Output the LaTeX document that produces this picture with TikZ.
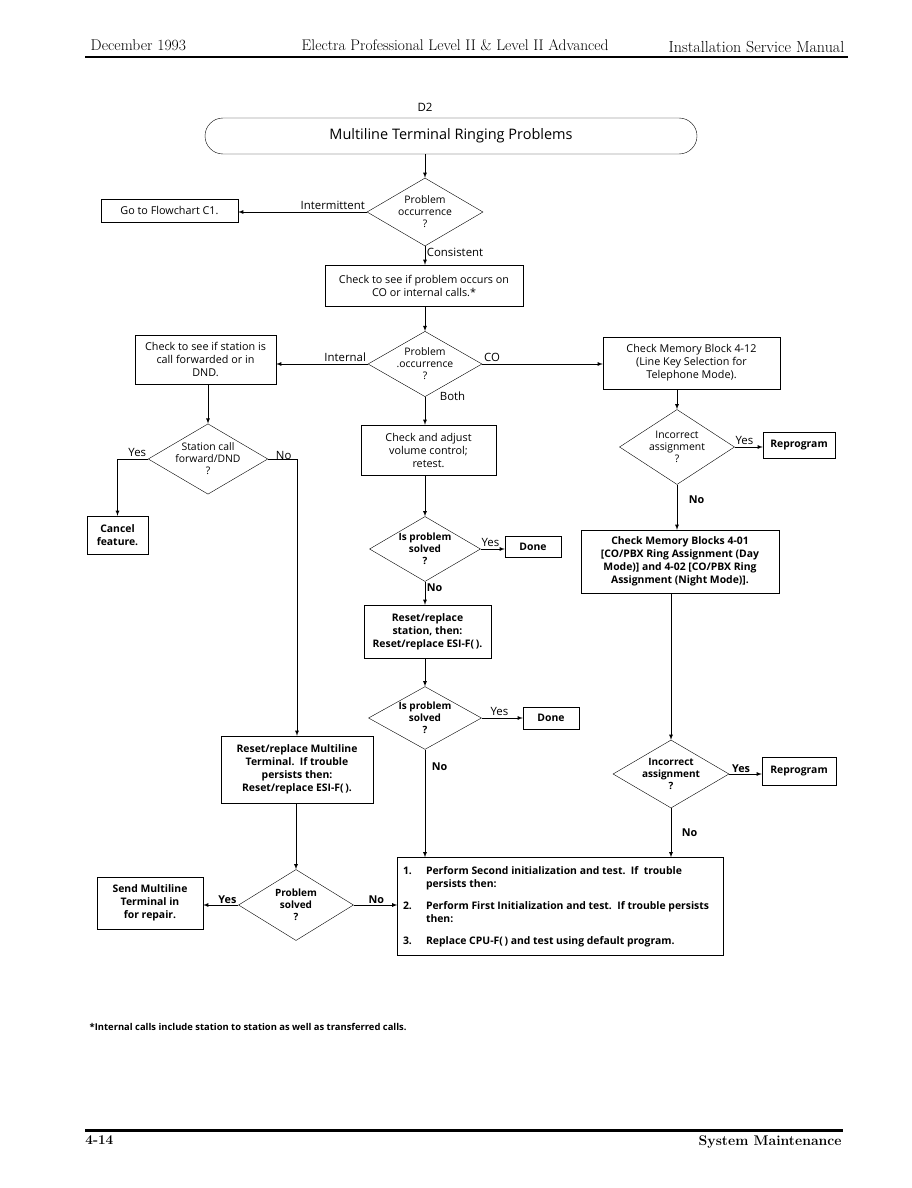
\documentclass[tikz,border=0pt]{standalone}
\usepackage{fontspec}
\setsansfont{Open Sans}
\usepackage{tikz}
\usetikzlibrary{shapes,arrows,positioning,calc}
\tikzset{
  basic/.style    = {draw, thin, font=\sffamily\fontsize{10.8}{13}\selectfont, align=center, inner sep=2pt},
  box/.style      = {basic, rectangle},
  bbox/.style     = {box, font=\sffamily\bfseries\fontsize{10.4}{13}\selectfont},
  decision/.style = {basic, diamond, aspect=1.7, inner sep=0pt, font=\sffamily\fontsize{10.4}{12}\selectfont},
  bdecision/.style= {decision, font=\sffamily\bfseries\fontsize{10}{12}\selectfont},
  term/.style     = {basic, rectangle, rounded corners=18pt, font=\sffamily\fontsize{14.5}{16}\selectfont},
  lbl/.style      = {font=\sffamily\fontsize{11.4}{12}\selectfont, inner sep=1.5pt},
  blbl/.style     = {lbl, font=\sffamily\bfseries\fontsize{10.8}{12}\selectfont},
  flow/.style     = {draw, -latex}
}

\begin{document}
\begin{tikzpicture}[x=1pt, y=-1pt, line width=0.8pt]
	\useasboundingbox (0,0) rectangle (911,1188);
	% page header
	\node[anchor=base west, font=\fontsize{15.6}{15}\selectfont] (hdl) at (87,51) {December 1993};
	\node[anchor=base west, font=\fontsize{15.4}{15}\selectfont] (hdm) at (298,51) {Electra Professional Level II \& Level II Advanced};
	\node[anchor=base east, font=\fontsize{16}{16}\selectfont] (hdr) at (848,53) {Installation Service Manual};
	\draw[line width=2pt] (85,57) -- (848,57);

	% title
	\node[font=\sffamily\fontsize{11.5}{12}\selectfont] (d2) at (425,107) {D2};
	\node[term, minimum width=492pt, minimum height=36pt] (start) at (451,136) {Multiline Terminal Ringing Problems};

	% top decision
	\node[decision, minimum width=116pt, minimum height=68pt] (dec1) at (425,212) {Problem\\occurrence\\?};
	\node[box, minimum width=137pt, minimum height=23pt] (goc) at (169.5,210.5) {Go to Flowchart C1.};
	\node[box, minimum width=198pt, minimum height=41pt] (check) at (424,285.5) {Check to see if problem occurs on\\CO or internal calls.*};

	% second decision
	\node[decision, minimum width=114pt, minimum height=64pt] (dec2) at (425,364) {Problem\\.occurrence\\?};
	\node[box, minimum width=141pt, minimum height=49pt] (fwd) at (205.5,359.5) {Check to see if station is\\call forwarded or in\\DND.};
	\node[box, minimum width=177pt, minimum height=52pt] (mbA) at (691.5,363) {Check Memory Block 4-12\\(Line Key Selection for\\Telephone Mode).};
	\node[box, minimum width=135pt, minimum height=50pt] (vol) at (428.5,450) {Check and adjust\\volume control;\\retest.};

	% left column
	\node[decision, minimum width=119pt, minimum height=70pt] (dec3) at (208,459) {Station call\\forward/DND\\?};
	\node[bbox, minimum width=61pt, minimum height=38pt] (cancel) at (117.5,535) {Cancel\\feature.};
	\node[bbox, minimum width=152pt, minimum height=67pt] (rstmt) at (297,769.5) {Reset/replace Multiline\\Terminal.\ \ If trouble\\persists then:\\Reset/replace ESI-F(\,).};
	\node[bdecision, minimum width=115pt, minimum height=71pt] (dec8) at (296,905) {Problem\\solved\\?};
	\node[bbox, minimum width=106pt, minimum height=52pt] (send) at (150,903) {Send Multiline\\Terminal in\\for repair.};

	% middle column
	\node[bdecision, minimum width=111pt, minimum height=65pt] (dec4) at (425,549) {Is problem\\solved\\?};
	\node[bbox, minimum width=56pt, minimum height=21pt] (done1) at (533,546.5) {Done};
	\node[bbox, minimum width=127pt, minimum height=53pt] (rstst) at (427.5,631.5) {Reset/replace\\station, then:\\Reset/replace ESI-F(\,).};
	\node[bdecision, minimum width=113pt, minimum height=60pt] (dec5) at (425,718) {Is problem\\solved\\?};
	\node[bbox, minimum width=56pt, minimum height=22pt] (done2) at (551,718) {Done};

	% right column
	\node[decision, minimum width=115pt, minimum height=75pt] (dec6) at (677,447) {Incorrect\\assignment\\?};
	\node[bbox, minimum width=72pt, minimum height=26pt] (rep1) at (799,445) {Reprogram};
	\node[bbox, minimum width=198pt, minimum height=63pt] (mbB) at (680,561.5) {Check Memory Blocks 4-01\\{}[CO/PBX Ring Assignment (Day\\Mode)] and 4-02 [CO/PBX Ring\\Assignment (Night Mode)].};
	\node[bdecision, minimum width=116pt, minimum height=68pt] (dec7) at (671,774) {Incorrect\\assignment\\?};
	\node[bbox, minimum width=74pt, minimum height=28pt] (rep2) at (799,771) {Reprogram};

	% final steps
	\node[bbox, align=left, minimum width=326pt, minimum height=98pt, inner sep=4pt] (steps) at (560.5,906.5) {%
		\begin{tabular}{@{}p{19pt}@{\hspace{4pt}}p{292pt}@{}}
		1. & Perform Second initialization and test.\ \ If\ \ trouble\newline persists then:\\[9pt]
		2. & Perform First Initialization and test.\ \ If trouble persists\newline then:\\[9pt]
		3. & Replace CPU-F(\,) and test using default program.
		\end{tabular}};

	% connectors
	\draw[flow] (dec1.north |- start.south) -- (dec1.north);
	\draw[flow] (dec1.west) -- (dec1.west -| goc.east);
	\draw[flow] (dec1.south) -- (dec1.south |- check.north);
	\draw[flow] (dec2.north |- check.south) -- (dec2.north);
	\draw[flow] (dec2.west) -- (dec2.west -| fwd.east);
	\draw[flow] (dec2.east) -- (dec2.east -| mbA.west);
	\draw[flow] (dec2.south) -- (dec2.south |- vol.north);
	\draw[flow] (dec3.north |- fwd.south) -- (dec3.north);
	\draw[flow] (dec3.west) -| (cancel.north);
	\draw[flow] (dec3.east) -| (rstmt.north);
	\draw[flow] (dec4.north |- vol.south) -- (dec4.north);
	\draw[flow] (dec4.east) -- (dec4.east -| done1.west);
	\draw[flow] (dec4.south) -- (dec4.south |- rstst.north);
	\draw[flow] (dec5.north |- rstst.south) -- (dec5.north);
	\draw[flow] (dec5.east) -- (dec5.east -| done2.west);
	\draw[flow] (dec5.south) -- (dec5.south |- steps.north);
	\draw[flow] (dec6.north |- mbA.south) -- (dec6.north);
	\draw[flow] (dec6.east) -- (dec6.east -| rep1.west);
	\draw[flow] (dec6.south) -- (dec6.south |- mbB.north);
	\draw[flow] (dec7.north |- mbB.south) -- (dec7.north);
	\draw[flow] (dec7.east) -- (dec7.east -| rep2.west);
	\draw[flow] (dec7.south) -- (dec7.south |- steps.north);
	\draw[flow] (dec8.north |- rstmt.south) -- (dec8.north);
	\draw[flow] (dec8.west) -- (dec8.west -| send.east);
	\draw[flow] (dec8.east) -- (dec8.east -| steps.west);

	% connector labels
	\node[lbl, above left] (l1) at (dec1.west) {Intermittent};
	\node[lbl, below right] (l2) at (dec1.south) {Consistent};
	\node[lbl, above left] (l3) at (dec2.west) {Internal};
	\node[lbl, above right] (l4) at (dec2.east) {CO};
	\node[lbl, anchor=west, xshift=13pt, yshift=1pt] (l5) at (dec2.south) {Both};
	\node[lbl, above left] (l6) at (dec3.west) {Yes};
	\node[lbl, above right, xshift=6pt, yshift=-3pt] (l7) at (dec3.east) {No};
	\node[lbl, above right, xshift=-1pt] (l8) at (dec4.east) {Yes};
	\node[blbl, below right] (l9) at (dec4.south) {No};
	\node[lbl, above right, xshift=7pt] (l10) at (dec5.east) {Yes};
	\node[blbl, right, xshift=5pt, yshift=-17pt] (l11) at (dec5.south) {No};
	\node[lbl, above right, xshift=-1pt] (l12) at (dec6.east) {Yes};
	\node[blbl, right, xshift=10pt, yshift=-15pt] (l13) at (dec6.south) {No};
	\node[blbl, above right, xshift=1pt] (l14) at (dec7.east) {Yes};
	\node[blbl, right, xshift=9pt, yshift=-24pt] (l15) at (dec7.south) {No};
	\node[blbl, above left] (l16) at (dec8.west) {Yes};
	\node[blbl, above right, xshift=13pt] (l17) at (dec8.east) {No};

	% footnote and page footer
	\node[anchor=west, font=\sffamily\bfseries\fontsize{9.4}{10}\selectfont] (note) at (86,1027) {*Internal calls include station to station as well as transferred calls.};
	\draw[line width=3pt] (85,1130) -- (843,1130);
	\node[anchor=north west, inner sep=0pt, font=\bfseries\fontsize{13.5}{13}\selectfont] (pg) at (85,1135) {4-14};
	\node[anchor=north east, inner sep=0pt, font=\bfseries\fontsize{14}{14}\selectfont] (sec) at (842,1135) {System Maintenance};
\end{tikzpicture}
\end{document}
